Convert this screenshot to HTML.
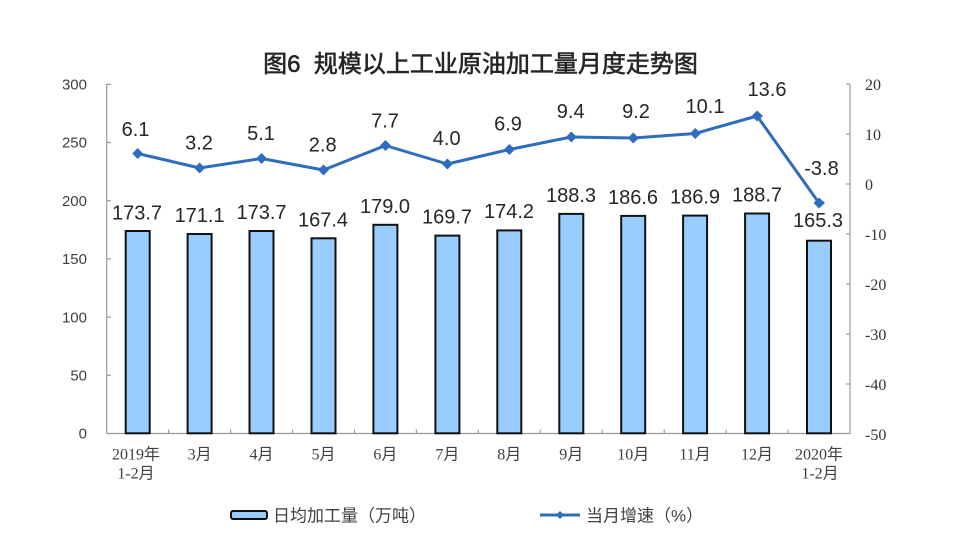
<!DOCTYPE html>
<html>
<head>
<meta charset="utf-8">
<style>
  html,body{margin:0;padding:0;background:#fff;}
  svg{display:block;}
  .val{font-family:"Liberation Sans","Noto Sans CJK SC",sans-serif;font-size:20px;fill:#262626;text-anchor:middle;}
  .ly{font-family:"Liberation Sans",sans-serif;font-size:15px;fill:#404040;text-anchor:end;}
  .ry{font-family:"Liberation Serif",serif;font-size:16px;fill:#333;text-anchor:start;}
  .xl{font-family:"Liberation Serif","Noto Sans CJK SC",serif;font-size:16px;fill:#404040;text-anchor:middle;}
  .lg{font-family:"Liberation Sans","Noto Sans CJK SC",sans-serif;font-size:17px;fill:#404040;}
  .title{font-family:"Liberation Sans","Noto Sans CJK SC",sans-serif;font-size:24px;font-weight:normal;fill:#262626;stroke:#262626;stroke-width:0.6px;text-anchor:middle;}
</style>
</head>
<body>
<svg width="971" height="552" viewBox="0 0 971 552" xmlns="http://www.w3.org/2000/svg">
  <rect width="971" height="552" fill="#fff"/>
  <!-- title -->
  <text class="title" x="480.5" y="72" xml:space="preserve">图6  规模以上工业原油加工量月度走势图</text>

  <!-- axes -->
  <g stroke="#999" stroke-width="1.2" fill="none">
    <line x1="106.7" y1="84" x2="106.7" y2="433.5"/>
    <line x1="850" y1="84" x2="850" y2="434"/>
    <line x1="106.7" y1="433.5" x2="850" y2="433.5"/>
    <!-- left ticks -->
    <line x1="106.7" y1="84.3" x2="111" y2="84.3"/>
    <line x1="106.7" y1="142.5" x2="111" y2="142.5"/>
    <line x1="106.7" y1="200.7" x2="111" y2="200.7"/>
    <line x1="106.7" y1="258.9" x2="111" y2="258.9"/>
    <line x1="106.7" y1="317.1" x2="111" y2="317.1"/>
    <line x1="106.7" y1="375.3" x2="111" y2="375.3"/>
    <!-- right ticks -->
    <line x1="846" y1="84" x2="850" y2="84"/>
    <line x1="846" y1="134" x2="850" y2="134"/>
    <line x1="846" y1="184" x2="850" y2="184"/>
    <line x1="846" y1="234" x2="850" y2="234"/>
    <line x1="846" y1="284" x2="850" y2="284"/>
    <line x1="846" y1="334" x2="850" y2="334"/>
    <line x1="846" y1="384" x2="850" y2="384"/>
    <!-- category ticks -->
    <line x1="168.6" y1="429.5" x2="168.6" y2="433.5"/>
    <line x1="230.6" y1="429.5" x2="230.6" y2="433.5"/>
    <line x1="292.5" y1="429.5" x2="292.5" y2="433.5"/>
    <line x1="354.5" y1="429.5" x2="354.5" y2="433.5"/>
    <line x1="416.4" y1="429.5" x2="416.4" y2="433.5"/>
    <line x1="478.3" y1="429.5" x2="478.3" y2="433.5"/>
    <line x1="540.3" y1="429.5" x2="540.3" y2="433.5"/>
    <line x1="602.2" y1="429.5" x2="602.2" y2="433.5"/>
    <line x1="664.2" y1="429.5" x2="664.2" y2="433.5"/>
    <line x1="726.1" y1="429.5" x2="726.1" y2="433.5"/>
    <line x1="788.0" y1="429.5" x2="788.0" y2="433.5"/>
  </g>

  <!-- left axis labels -->
  <text class="ly" x="87" y="89.5">300</text>
  <text class="ly" x="87" y="147.7">250</text>
  <text class="ly" x="87" y="205.9">200</text>
  <text class="ly" x="87" y="264.1">150</text>
  <text class="ly" x="87" y="322.3">100</text>
  <text class="ly" x="87" y="380.5">50</text>
  <text class="ly" x="87" y="438.7">0</text>

  <!-- right axis labels -->
  <text class="ry" x="865" y="90">20</text>
  <text class="ry" x="865" y="140">10</text>
  <text class="ry" x="865" y="190">0</text>
  <text class="ry" x="865" y="240">-10</text>
  <text class="ry" x="865" y="290">-20</text>
  <text class="ry" x="865" y="340">-30</text>
  <text class="ry" x="865" y="390">-40</text>
  <text class="ry" x="865" y="440">-50</text>

  <!-- bars -->
  <g fill="#99CCFF" stroke="#111" stroke-width="2">
    <rect x="125.7" y="231.0" width="24" height="202.3"/>
    <rect x="187.6" y="234.0" width="24" height="199.3"/>
    <rect x="249.5" y="231.0" width="24" height="202.3"/>
    <rect x="311.5" y="238.3" width="24" height="195.0"/>
    <rect x="373.4" y="224.8" width="24" height="208.5"/>
    <rect x="435.4" y="235.6" width="24" height="197.7"/>
    <rect x="497.3" y="230.4" width="24" height="202.9"/>
    <rect x="559.3" y="213.9" width="24" height="219.4"/>
    <rect x="621.2" y="215.9" width="24" height="217.4"/>
    <rect x="683.1" y="215.6" width="24" height="217.7"/>
    <rect x="745.1" y="213.5" width="24" height="219.8"/>
    <rect x="807.0" y="240.7" width="24" height="192.6"/>
  </g>

  <!-- bar labels -->
  <text class="val" x="137" y="219.5">173.7</text>
  <text class="val" x="199.6" y="222">171.1</text>
  <text class="val" x="261.5" y="219">173.7</text>
  <text class="val" x="323" y="226.5">167.4</text>
  <text class="val" x="385" y="213">179.0</text>
  <text class="val" x="447" y="223.5">169.7</text>
  <text class="val" x="509" y="218">174.2</text>
  <text class="val" x="571" y="202">188.3</text>
  <text class="val" x="633" y="204">186.6</text>
  <text class="val" x="695" y="203.5">186.9</text>
  <text class="val" x="757" y="201.5">188.7</text>
  <text class="val" x="818" y="227">165.3</text>

  <!-- line -->
  <polyline fill="none" stroke="#2E6DBC" stroke-width="3" stroke-linejoin="round"
    points="137.67,153.5 199.61,168 261.55,158.5 323.49,170 385.43,145.5 447.37,164 509.31,149.5 571.25,137 633.19,138 695.13,133.5 757.07,116 819.01,203"/>
  <g fill="#2E6DBC">
    <polygon points="137.67,148 143,153.5 137.67,159 132.3,153.5"/>
    <polygon points="199.61,162.5 205,168 199.61,173.5 194.2,168"/>
    <polygon points="261.55,153 267,158.5 261.55,164 256.1,158.5"/>
    <polygon points="323.49,164.5 329,170 323.49,175.5 318,170"/>
    <polygon points="385.43,140 391,145.5 385.43,151 380,145.5"/>
    <polygon points="447.37,158.5 453,164 447.37,169.5 442,164"/>
    <polygon points="509.31,144 515,149.5 509.31,155 504,149.5"/>
    <polygon points="571.25,131.5 577,137 571.25,142.5 566,137"/>
    <polygon points="633.19,132.5 639,138 633.19,143.5 628,138"/>
    <polygon points="695.13,128 701,133.5 695.13,139 690,133.5"/>
    <polygon points="757.07,110.5 763,116 757.07,121.5 751.6,116"/>
    <polygon points="819.01,197.5 825,203 819.01,208.5 813.5,203"/>
  </g>

  <!-- line labels -->
  <text class="val" x="135.5" y="136">6.1</text>
  <text class="val" x="199" y="149.5">3.2</text>
  <text class="val" x="261" y="140">5.1</text>
  <text class="val" x="322.7" y="151.7">2.8</text>
  <text class="val" x="385" y="127.3">7.7</text>
  <text class="val" x="446.7" y="145">4.0</text>
  <text class="val" x="508" y="130.7">6.9</text>
  <text class="val" x="570.7" y="118">9.4</text>
  <text class="val" x="636" y="118">9.2</text>
  <text class="val" x="705" y="113">10.1</text>
  <text class="val" x="767" y="96">13.6</text>
  <text class="val" x="821.5" y="175">-3.8</text>

  <!-- x labels -->
  <text class="xl" x="136" y="459.5">2019年</text>
  <text class="xl" x="136" y="478.5">1-2月</text>
  <text class="xl" x="199.6" y="459.5">3月</text>
  <text class="xl" x="261.5" y="459.5">4月</text>
  <text class="xl" x="323.5" y="459.5">5月</text>
  <text class="xl" x="385.4" y="459.5">6月</text>
  <text class="xl" x="447.4" y="459.5">7月</text>
  <text class="xl" x="509.3" y="459.5">8月</text>
  <text class="xl" x="571.2" y="459.5">9月</text>
  <text class="xl" x="633.2" y="459.5">10月</text>
  <text class="xl" x="695.1" y="459.5">11月</text>
  <text class="xl" x="757" y="459.5">12月</text>
  <text class="xl" x="819" y="459.5">2020年</text>
  <text class="xl" x="820" y="478.5">1-2月</text>

  <!-- legend -->
  <rect x="231" y="511" width="36" height="8" rx="2" ry="2" fill="#99CCFF" stroke="#111" stroke-width="2"/>
  <text class="lg" x="273" y="521.5">日均加工量（万吨）</text>
  <line x1="540" y1="515" x2="580" y2="515" stroke="#2E6DBC" stroke-width="3"/>
  <polygon points="560,511 564,515 560,519 556,515" fill="#2E6DBC"/>
  <text class="lg" x="586" y="521.5">当月增速（%）</text>
</svg>
</body>
</html>
